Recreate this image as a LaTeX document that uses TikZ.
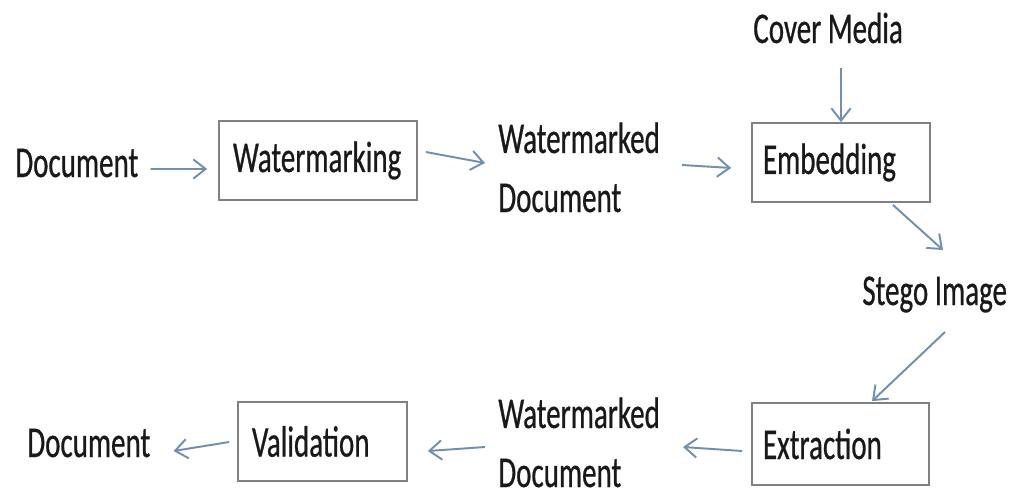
\documentclass[tikz,border=0pt]{standalone}
\usepackage{fontspec}
\setmainfont{Carlito}[FakeStretch=0.66,FakeBold=0.6]
\usepackage{xcolor}
\usetikzlibrary{arrows.meta}
\definecolor{arrowblue}{RGB}{112,142,176}
\definecolor{boxgray}{RGB}{128,128,128}
\definecolor{inkgray}{RGB}{25,25,25}

\begin{document}
\begin{tikzpicture}[
    x=0.02cm, y=-0.02cm,
    every node/.style={font=\fontsize{25}{33.6}\selectfont, text=inkgray},
    txt/.style={inner sep=0pt, anchor=base west, align=left},
    box/.style={rectangle, draw=boxgray, line width=1pt, inner xsep=0.22cm, align=left},
    arrow/.style={-{Straight Barb[length=7pt,width=11pt]}, line width=1.1pt, draw=arrowblue}
]
\useasboundingbox (0,0) rectangle (1011,497);

% top row
\node[txt] (docin) at (15,177) {Document};
\node[box, inner xsep=0.28cm, text width=3.4cm, minimum height=1.58cm] (wm) at (318,160.5) {Watermarking};
\node[txt] (wmdoc) at (498,212) {Watermarked\\Document};
\node[box, text width=3.12cm, minimum height=1.58cm] (emb) at (841,162.5) {Embedding};
\node[txt] (cover) at (753,43) {Cover Media};
\node[txt] (stego) at (862,305) {Stego Image};

% bottom row
\node[box, text width=3.1cm, minimum height=1.64cm] (ext) at (840.5,444) {Extraction};
\node[txt] (wmdocb) at (498,487) {Watermarked\\Document};
\node[box, inner xsep=0.28cm, text width=2.82cm, minimum height=1.58cm] (val) at (322.5,441.5) {Validation};
\node[txt] (docout) at (27,457) {Document};

\draw[arrow] ([shift={(12,-8)}]docin.base east) -- ([shift={(-11,8.5)}]wm.west);
\draw[arrow] ([shift={(8,-8.5)}]wm.east) -- ([shift={(-13,-49)}]wmdoc.base west);
\draw[arrow] ([shift={(184,-47)}]wmdoc.base west) -- ([shift={(-20,5.5)}]emb.west);
\draw[arrow] ([shift={(88,25)}]cover.base west) -- (emb.north);
\draw[arrow] ([shift={(-38,2)}]emb.south east) -- ([shift={(81,-55)}]stego.base west);
\draw[arrow] ([shift={(83,27)}]stego.base west) -- ([shift={(31.5,-1)}]ext.north);
\draw[arrow] ([shift={(-9,7)}]ext.west) -- ([shift={(185,-40)}]wmdocb.base west);
\draw[arrow] ([shift={(-13,-40)}]wmdocb.base west) -- ([shift={(20,9.5)}]val.east);
\draw[arrow] ([shift={(-8,0.5)}]val.west) -- ([shift={(23,-6)}]docout.base east);
\end{tikzpicture}
\end{document}
